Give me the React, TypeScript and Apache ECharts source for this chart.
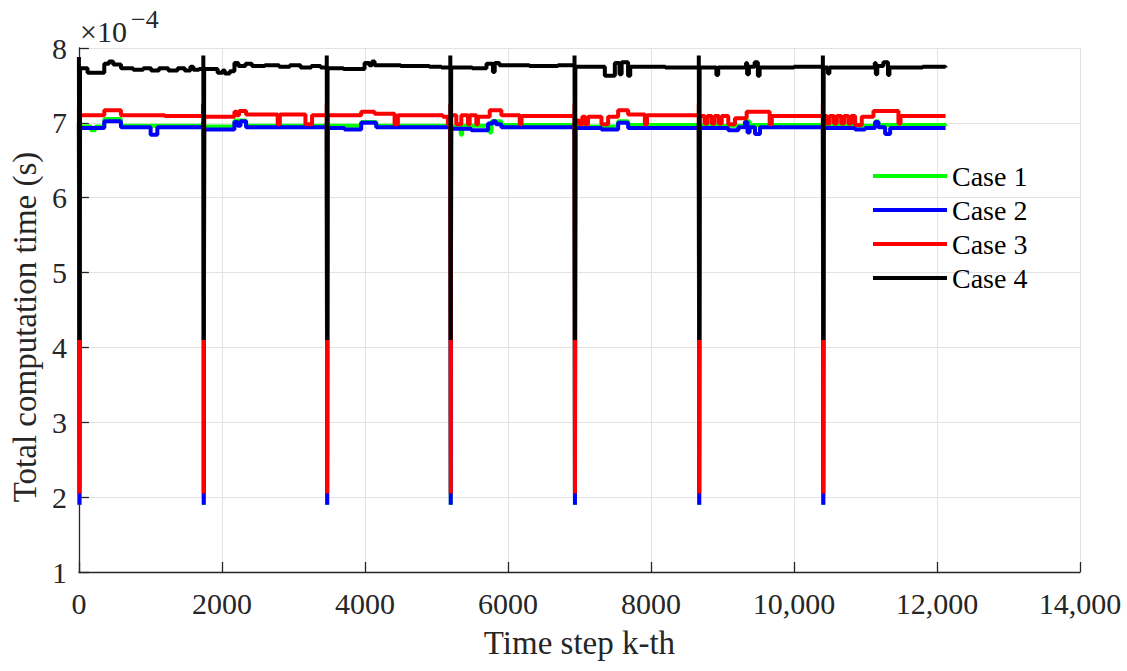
import React, { useEffect, useRef } from "react";
import * as echarts from "echarts";

const xTickLabels = ["0", "2000", "4000", "6000", "8000", "10,000", "12,000", "14,000"];
const yTickLabels = ["1", "2", "3", "4", "5", "6", "7", "8"];
const seriesNames = ["Case 1", "Case 2", "Case 3", "Case 4"];
const seriesColors = ["#00ff00", "#0000ff", "#ff0000", "#000000"];

// breakpoints [time step, computation time x1e-4 s]; value holds until next breakpoint
const case1: [number, number][] = [
  [0, 7.0], [8, 1.9], [16, 6.95], [168, 6.9], [230, 6.95], [355, 7.05], [588, 6.96],
  [1735, 7.0], [1746, 1.9], [1752, 6.95], [2175, 7.03], [2338, 6.96],
  [3466, 7.0], [3472, 1.9], [3478, 6.96], [3948, 7.01], [4158, 6.96], [5050, 6.96],
  [5194, 7.0], [5200, 1.9], [5206, 6.95], [5340, 6.84], [5360, 6.96], [5745, 6.87], [5770, 7.02], [5908, 6.97],
  [6931, 7.0], [6937, 1.9], [6943, 6.95], [7541, 7.02], [7681, 6.97],
  [8669, 7.0], [8675, 1.9], [8681, 6.96], [9315, 7.02], [9380, 6.97],
  [10404, 7.0], [10410, 1.9], [10416, 6.96], [11135, 7.02], [11180, 6.97], [12120, 6.96],
];

const case2: [number, number][] = [
  [0, 7.0], [8, 1.9], [16, 6.93], [355, 7.02], [588, 6.94], [1003, 6.84], [1097, 6.94],
  [1735, 7.0], [1746, 1.9], [1752, 6.91], [2175, 7.01], [2220, 6.96], [2260, 7.02], [2338, 6.94],
  [3466, 7.0], [3472, 1.9], [3478, 6.93], [3715, 6.91], [3948, 7.0], [4158, 6.94],
  [5194, 7.0], [5200, 1.9], [5206, 6.92], [5488, 6.9], [5721, 6.99], [5790, 7.02], [5830, 6.98], [5908, 6.94],
  [6931, 7.0], [6937, 1.9], [6943, 6.93], [7308, 6.91], [7541, 7.0], [7681, 6.93],
  [8669, 7.0], [8675, 1.9], [8681, 6.93], [9081, 6.9], [9221, 6.94], [9315, 7.01], [9350, 6.87], [9380, 6.94], [9455, 6.85], [9525, 6.94],
  [10404, 7.0], [10410, 1.9], [10416, 6.93], [10855, 6.91], [10995, 6.93], [11135, 7.01], [11180, 6.94], [11275, 6.85], [11345, 6.93], [12120, 6.93],
];

const case3: [number, number][] = [
  [0, 7.2], [8, 2.05], [16, 7.1], [355, 7.17], [588, 7.1], [1200, 7.09],
  [1735, 7.25], [1746, 2.05], [1752, 7.08], [2175, 7.15], [2210, 7.1], [2240, 7.16], [2338, 7.11], [2780, 6.98], [2810, 7.11], [3168, 6.98], [3261, 7.1],
  [3466, 7.25], [3472, 2.05], [3478, 7.1], [3948, 7.15], [4135, 7.12], [4415, 6.98], [4461, 7.1], [5090, 7.08], [5160, 6.98],
  [5194, 7.25], [5200, 2.05], [5206, 7.1], [5278, 6.98], [5348, 7.1], [5441, 6.98], [5465, 7.1], [5558, 6.98], [5580, 7.08], [5745, 7.17], [5908, 7.1], [6165, 6.98], [6190, 7.09],
  [6931, 7.25], [6937, 2.05], [6943, 7.03], [7000, 6.98], [7040, 7.08], [7080, 6.98], [7120, 7.08], [7308, 6.98], [7401, 7.08], [7541, 7.17], [7681, 7.11], [7915, 6.98], [7945, 7.1],
  [8669, 7.25], [8675, 2.05], [8681, 7.09], [8750, 6.99], [8790, 7.09], [8850, 6.99], [8890, 7.09], [8950, 6.99], [8990, 7.09], [9081, 6.98], [9175, 7.06], [9338, 7.15], [9660, 6.98], [9690, 7.09],
  [10404, 7.25], [10410, 2.05], [10416, 7.09], [10460, 6.99], [10500, 7.09], [10560, 6.99], [10600, 7.09], [10660, 6.99], [10700, 7.09], [10760, 6.99], [10800, 7.09], [10855, 6.97], [10948, 7.08], [11112, 7.16], [11461, 6.99], [11490, 7.09], [12120, 7.09],
];

const case4: [number, number][] = [
  [0, 7.88], [8, 4.1], [16, 7.73], [121, 7.67], [355, 7.79], [420, 7.82], [480, 7.78], [588, 7.73], [760, 7.71], [900, 7.73], [1010, 7.7], [1120, 7.73], [1250, 7.7], [1380, 7.73], [1480, 7.7], [1560, 7.75], [1600, 7.71], [1680, 7.72],
  [1740, 7.9], [1746, 4.1], [1752, 7.72], [1940, 7.67], [2010, 7.7], [2040, 7.66], [2110, 7.69], [2175, 7.8], [2230, 7.76], [2330, 7.79], [2420, 7.76], [2600, 7.77], [2800, 7.75], [2950, 7.77], [3100, 7.74], [3250, 7.76], [3380, 7.74],
  [3466, 7.9], [3472, 4.1], [3478, 7.73], [3700, 7.72], [3995, 7.8], [4060, 7.77], [4100, 7.82], [4135, 7.77], [4500, 7.76], [4900, 7.75], [5070, 7.74],
  [5194, 7.9], [5200, 4.1], [5206, 7.74], [5500, 7.73], [5700, 7.79], [5790, 7.68], [5815, 7.8], [5880, 7.77], [6300, 7.76], [6700, 7.77],
  [6931, 7.9], [6937, 4.1], [6943, 7.75], [7355, 7.63], [7495, 7.8], [7560, 7.65], [7590, 7.81], [7680, 7.63], [7710, 7.75], [8200, 7.74],
  [8669, 7.9], [8675, 4.1], [8681, 7.74], [8915, 7.64], [8940, 7.74], [9330, 7.8], [9345, 7.65], [9370, 7.75], [9450, 7.81], [9495, 7.63], [9520, 7.74], [10000, 7.75],
  [10404, 7.9], [10410, 4.1], [10416, 7.74], [10475, 7.66], [10495, 7.74], [11130, 7.8], [11145, 7.65], [11165, 7.76], [11250, 7.81], [11315, 7.64], [11335, 7.74], [11800, 7.75], [12120, 7.74],
];

const seriesData = [case1, case2, case3, case4];

const FONT = "'Liberation Serif', 'Times New Roman', serif";
const AXIS = "#262626";
const GRID = "#e3e3e3";

export default function App() {
  const ref = useRef<HTMLDivElement>(null);

  useEffect(() => {
    document.body.style.margin = "0";
    if (!ref.current) return;
    const chart = echarts.init(ref.current, undefined, { renderer: "svg" });
    chart.setOption({
      animation: false,
      backgroundColor: "#ffffff",
      textStyle: { fontFamily: FONT },
      grid: { left: 78, right: 47, top: 48, bottom: 99, containLabel: false },
      xAxis: {
        type: "value",
        min: 0,
        max: 14000,
        interval: 2000,
        name: "Time step k-th",
        nameLocation: "middle",
        nameGap: 54,
        nameTextStyle: { fontFamily: FONT, fontSize: 33, color: "#262626" },
        axisLine: { show: true, onZero: false, lineStyle: { color: AXIS, width: 1.3 } },
        axisTick: { show: true, inside: true, length: 10, lineStyle: { color: AXIS, width: 1.3 } },
        axisLabel: {
          fontFamily: FONT,
          fontSize: 30,
          color: "#262626",
          margin: 16,
          formatter: (v: number) => xTickLabels[Math.round(v / 2000)] ?? "",
        },
        splitLine: { show: true, lineStyle: { color: GRID, width: 1 } },
      },
      yAxis: {
        type: "value",
        min: 1,
        max: 8,
        interval: 1,
        name: "Total computation time (s)",
        nameLocation: "middle",
        nameGap: 36,
        nameTextStyle: { fontFamily: FONT, fontSize: 33, color: "#262626", padding: [0, 34, 0, 0] },
        axisLine: { show: true, onZero: false, lineStyle: { color: AXIS, width: 1.3 } },
        axisTick: { show: true, inside: true, length: 10, lineStyle: { color: AXIS, width: 1.3 } },
        axisLabel: {
          fontFamily: FONT,
          fontSize: 30,
          color: "#262626",
          margin: 12,
          formatter: (v: number) => yTickLabels[Math.round(v - 1)] ?? "",
        },
        splitLine: { show: true, lineStyle: { color: GRID, width: 1 } },
      },
      legend: {
        orient: "vertical",
        left: 873,
        top: 159,
        padding: 0,
        itemGap: 0,
        itemWidth: 74,
        itemHeight: 4,
        icon: "rect",
        textStyle: { fontFamily: FONT, fontSize: 28, color: "#000", lineHeight: 34 },
        data: seriesNames,
      },
      graphic: [
        {
          type: "text",
          left: 80,
          top: 16,
          style: { text: "×10", font: `30px ${FONT}`, fill: "#262626" },
        },
        {
          type: "text",
          left: 131,
          top: 6,
          style: { text: "−4", font: `26px ${FONT}`, fill: "#262626" },
        },
      ],
      series: seriesData.map((d, i) => ({
        name: seriesNames[i],
        type: "line",
        data: d,
        step: "end",
        symbol: "none",
        showSymbol: false,
        lineStyle: { color: seriesColors[i], width: 4 },
        itemStyle: { color: seriesColors[i] },
        emphasis: { disabled: true },
      })),
    });
    return () => chart.dispose();
  }, []);

  return <div ref={ref} style={{ width: 1127, height: 671 }} />;
}
